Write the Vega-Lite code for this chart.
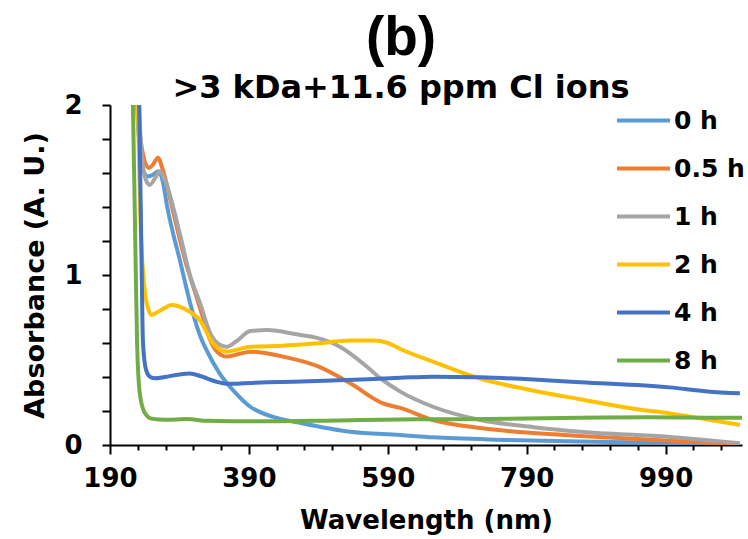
{
  "$schema": "https://vega.github.io/schema/vega-lite/v6.json",
  "autosize": "none",
  "width": 632,
  "height": 340,
  "padding": {"left": 110, "top": 105, "right": 6, "bottom": 94},
  "background": "white",
  "title": {
    "text": "(b)",
    "subtitle": ">3 kDa+11.6 ppm Cl ions",
    "anchor": "middle",
    "frame": "group",
    "dx": -25,
    "offset": -13,
    "font": "Liberation Sans",
    "fontSize": 55,
    "fontWeight": "bold",
    "color": "black",
    "subtitleFont": "DejaVu Sans",
    "subtitleFontSize": 32,
    "subtitleFontWeight": "bold",
    "subtitleColor": "black",
    "subtitlePadding": 6
  },
  "config": {
    "view": {"stroke": null},
    "axis": {
      "domainColor": "black",
      "domainWidth": 2,
      "tickColor": "black",
      "tickWidth": 2,
      "grid": false,
      "labelFont": "DejaVu Sans",
      "labelFontWeight": "bold",
      "labelFontSize": 26,
      "labelColor": "black",
      "titleFont": "DejaVu Sans",
      "titleFontWeight": "bold",
      "titleFontSize": 26,
      "titleColor": "black"
    }
  },
  "data": {
    "values": [
      {"series": "0 h", "nm": 226, "abs": 2.8},
      {"series": "0 h", "nm": 229, "abs": 2.0},
      {"series": "0 h", "nm": 233, "abs": 1.75},
      {"series": "0 h", "nm": 237.5, "abs": 1.62},
      {"series": "0 h", "nm": 245, "abs": 1.58},
      {"series": "0 h", "nm": 252, "abs": 1.59},
      {"series": "0 h", "nm": 260, "abs": 1.61},
      {"series": "0 h", "nm": 266, "abs": 1.55},
      {"series": "0 h", "nm": 272, "abs": 1.41},
      {"series": "0 h", "nm": 291, "abs": 1.08},
      {"series": "0 h", "nm": 309, "abs": 0.78},
      {"series": "0 h", "nm": 320, "abs": 0.64},
      {"series": "0 h", "nm": 330, "abs": 0.55},
      {"series": "0 h", "nm": 348, "abs": 0.42},
      {"series": "0 h", "nm": 370, "abs": 0.31},
      {"series": "0 h", "nm": 392, "abs": 0.225},
      {"series": "0 h", "nm": 425, "abs": 0.165},
      {"series": "0 h", "nm": 464, "abs": 0.13},
      {"series": "0 h", "nm": 536, "abs": 0.078},
      {"series": "0 h", "nm": 608, "abs": 0.059},
      {"series": "0 h", "nm": 655, "abs": 0.045},
      {"series": "0 h", "nm": 760, "abs": 0.03},
      {"series": "0 h", "nm": 867, "abs": 0.02},
      {"series": "0 h", "nm": 1000, "abs": 0.012},
      {"series": "0 h", "nm": 1097, "abs": 0.008},

      {"series": "0.5 h", "nm": 227, "abs": 2.8},
      {"series": "0.5 h", "nm": 230, "abs": 2.0},
      {"series": "0.5 h", "nm": 234, "abs": 1.8},
      {"series": "0.5 h", "nm": 238, "abs": 1.7},
      {"series": "0.5 h", "nm": 246, "abs": 1.63},
      {"series": "0.5 h", "nm": 252, "abs": 1.65},
      {"series": "0.5 h", "nm": 259, "abs": 1.69},
      {"series": "0.5 h", "nm": 266, "abs": 1.62},
      {"series": "0.5 h", "nm": 281, "abs": 1.37},
      {"series": "0.5 h", "nm": 300, "abs": 1.06},
      {"series": "0.5 h", "nm": 310, "abs": 0.93},
      {"series": "0.5 h", "nm": 320, "abs": 0.8},
      {"series": "0.5 h", "nm": 334, "abs": 0.62},
      {"series": "0.5 h", "nm": 345, "abs": 0.545},
      {"series": "0.5 h", "nm": 358, "abs": 0.52},
      {"series": "0.5 h", "nm": 375, "abs": 0.535},
      {"series": "0.5 h", "nm": 392, "abs": 0.549},
      {"series": "0.5 h", "nm": 439, "abs": 0.52},
      {"series": "0.5 h", "nm": 488, "abs": 0.465},
      {"series": "0.5 h", "nm": 536, "abs": 0.363},
      {"series": "0.5 h", "nm": 583, "abs": 0.245},
      {"series": "0.5 h", "nm": 608, "abs": 0.218},
      {"series": "0.5 h", "nm": 655, "abs": 0.147},
      {"series": "0.5 h", "nm": 723, "abs": 0.1},
      {"series": "0.5 h", "nm": 800, "abs": 0.07},
      {"series": "0.5 h", "nm": 867, "abs": 0.053},
      {"series": "0.5 h", "nm": 996, "abs": 0.025},
      {"series": "0.5 h", "nm": 1097, "abs": 0.003},

      {"series": "1 h", "nm": 228, "abs": 2.8},
      {"series": "1 h", "nm": 232, "abs": 2.0},
      {"series": "1 h", "nm": 236, "abs": 1.7},
      {"series": "1 h", "nm": 240, "abs": 1.58},
      {"series": "1 h", "nm": 247, "abs": 1.53},
      {"series": "1 h", "nm": 255, "abs": 1.57},
      {"series": "1 h", "nm": 262, "abs": 1.61},
      {"series": "1 h", "nm": 269, "abs": 1.56},
      {"series": "1 h", "nm": 291, "abs": 1.235},
      {"series": "1 h", "nm": 305, "abs": 1.0},
      {"series": "1 h", "nm": 320, "abs": 0.83},
      {"series": "1 h", "nm": 334, "abs": 0.66},
      {"series": "1 h", "nm": 348, "abs": 0.59},
      {"series": "1 h", "nm": 358, "abs": 0.578},
      {"series": "1 h", "nm": 372, "abs": 0.61},
      {"series": "1 h", "nm": 392, "abs": 0.67},
      {"series": "1 h", "nm": 416, "abs": 0.676},
      {"series": "1 h", "nm": 464, "abs": 0.647},
      {"series": "1 h", "nm": 488, "abs": 0.63},
      {"series": "1 h", "nm": 521, "abs": 0.578},
      {"series": "1 h", "nm": 560, "abs": 0.46},
      {"series": "1 h", "nm": 580, "abs": 0.39},
      {"series": "1 h", "nm": 608, "abs": 0.314},
      {"series": "1 h", "nm": 655, "abs": 0.225},
      {"series": "1 h", "nm": 723, "abs": 0.147},
      {"series": "1 h", "nm": 800, "abs": 0.105},
      {"series": "1 h", "nm": 867, "abs": 0.078},
      {"series": "1 h", "nm": 996, "abs": 0.047},
      {"series": "1 h", "nm": 1097, "abs": 0.01},

      {"series": "2 h", "nm": 227, "abs": 2.8},
      {"series": "2 h", "nm": 230, "abs": 2.0},
      {"series": "2 h", "nm": 234, "abs": 1.3},
      {"series": "2 h", "nm": 239, "abs": 0.95},
      {"series": "2 h", "nm": 245, "abs": 0.8},
      {"series": "2 h", "nm": 250, "abs": 0.765},
      {"series": "2 h", "nm": 262, "abs": 0.79},
      {"series": "2 h", "nm": 279, "abs": 0.824},
      {"series": "2 h", "nm": 298, "abs": 0.8},
      {"series": "2 h", "nm": 320, "abs": 0.73},
      {"series": "2 h", "nm": 338, "abs": 0.6},
      {"series": "2 h", "nm": 358, "abs": 0.55},
      {"series": "2 h", "nm": 392, "abs": 0.578},
      {"series": "2 h", "nm": 439, "abs": 0.584},
      {"series": "2 h", "nm": 488, "abs": 0.598},
      {"series": "2 h", "nm": 536, "abs": 0.614},
      {"series": "2 h", "nm": 569, "abs": 0.614},
      {"series": "2 h", "nm": 590, "abs": 0.6},
      {"series": "2 h", "nm": 608, "abs": 0.565},
      {"series": "2 h", "nm": 655, "abs": 0.49},
      {"series": "2 h", "nm": 723, "abs": 0.39},
      {"series": "2 h", "nm": 795, "abs": 0.324},
      {"series": "2 h", "nm": 867, "abs": 0.269},
      {"series": "2 h", "nm": 949, "abs": 0.21},
      {"series": "2 h", "nm": 996, "abs": 0.186},
      {"series": "2 h", "nm": 1050, "abs": 0.15},
      {"series": "2 h", "nm": 1097, "abs": 0.118},

      {"series": "4 h", "nm": 229, "abs": 2.8},
      {"series": "4 h", "nm": 232, "abs": 2.0},
      {"series": "4 h", "nm": 235, "abs": 1.2},
      {"series": "4 h", "nm": 237.5, "abs": 0.6},
      {"series": "4 h", "nm": 242, "abs": 0.44},
      {"series": "4 h", "nm": 248, "abs": 0.4},
      {"series": "4 h", "nm": 255, "abs": 0.392},
      {"series": "4 h", "nm": 269, "abs": 0.4},
      {"series": "4 h", "nm": 290, "abs": 0.415},
      {"series": "4 h", "nm": 305, "abs": 0.42},
      {"series": "4 h", "nm": 320, "abs": 0.406},
      {"series": "4 h", "nm": 341, "abs": 0.375},
      {"series": "4 h", "nm": 358, "abs": 0.36},
      {"series": "4 h", "nm": 416, "abs": 0.369},
      {"series": "4 h", "nm": 488, "abs": 0.376},
      {"series": "4 h", "nm": 608, "abs": 0.395},
      {"series": "4 h", "nm": 655, "abs": 0.402},
      {"series": "4 h", "nm": 723, "abs": 0.398},
      {"series": "4 h", "nm": 800, "abs": 0.385},
      {"series": "4 h", "nm": 867, "abs": 0.369},
      {"series": "4 h", "nm": 996, "abs": 0.339},
      {"series": "4 h", "nm": 1050, "abs": 0.315},
      {"series": "4 h", "nm": 1097, "abs": 0.304},

      {"series": "8 h", "nm": 218, "abs": 2.8},
      {"series": "8 h", "nm": 223, "abs": 2.0},
      {"series": "8 h", "nm": 226, "abs": 1.3},
      {"series": "8 h", "nm": 229, "abs": 0.6},
      {"series": "8 h", "nm": 233, "abs": 0.3},
      {"series": "8 h", "nm": 240, "abs": 0.19},
      {"series": "8 h", "nm": 250, "abs": 0.155},
      {"series": "8 h", "nm": 270, "abs": 0.148},
      {"series": "8 h", "nm": 300, "abs": 0.153},
      {"series": "8 h", "nm": 330, "abs": 0.142},
      {"series": "8 h", "nm": 400, "abs": 0.139},
      {"series": "8 h", "nm": 500, "abs": 0.143},
      {"series": "8 h", "nm": 607, "abs": 0.15},
      {"series": "8 h", "nm": 700, "abs": 0.152},
      {"series": "8 h", "nm": 867, "abs": 0.16},
      {"series": "8 h", "nm": 967, "abs": 0.163},
      {"series": "8 h", "nm": 1050, "abs": 0.16},
      {"series": "8 h", "nm": 1100, "abs": 0.16}
    ]
  },
  "mark": {"type": "line", "interpolate": "monotone", "strokeWidth": 4, "clip": true},
  "encoding": {
    "x": {
      "field": "nm",
      "type": "quantitative",
      "title": "Wavelength (nm)",
      "scale": {"domain": [190, 1100], "nice": false, "zero": false},
      "axis": {
        "values": [190, 230, 270, 310, 350, 390, 430, 470, 510, 550, 590, 630, 670, 710, 750, 790, 830, 870, 910, 950, 990, 1030, 1070],
        "labelExpr": "(datum.value - 190) % 200 == 0 ? datum.value : ''",
        "tickSize": {"condition": {"test": "(datum.value - 190) % 200 == 0", "value": 9}, "value": 5},
        "labelPadding": 11,
        "titlePadding": 16,
        "labelFlush": false,
        "labelOverlap": false
      }
    },
    "y": {
      "field": "abs",
      "type": "quantitative",
      "title": "Absorbance (A. U.)",
      "scale": {"domain": [0, 2], "nice": false},
      "axis": {
        "values": [0, 0.2, 0.4, 0.6, 0.8, 1, 1.2, 1.4, 1.6, 1.8, 2],
        "labelExpr": "(datum.value == 0 || datum.value == 1 || datum.value == 2) ? datum.value : ''",
        "tickSize": 8,
        "labelPadding": 20,
        "titlePadding": 14,
        "titleFontSize": 27,
        "labelFlush": false,
        "labelOverlap": false
      }
    },
    "color": {
      "field": "series",
      "type": "nominal",
      "sort": ["0 h", "0.5 h", "1 h", "2 h", "4 h", "8 h"],
      "scale": {
        "domain": ["0 h", "0.5 h", "1 h", "2 h", "4 h", "8 h"],
        "range": ["#5B9BD5", "#ED7D31", "#A5A5A5", "#FFC000", "#4472C4", "#70AD47"]
      },
      "legend": {
        "title": null,
        "orient": "none",
        "legendX": 505,
        "legendY": -13,
        "padding": 0,
        "symbolType": "stroke",
        "symbolSize": 2809,
        "symbolStrokeWidth": 4,
        "labelFont": "DejaVu Sans",
        "labelFontWeight": "bold",
        "labelFontSize": 25,
        "labelColor": "black",
        "labelOffset": 2,
        "rowPadding": 6
      }
    }
  }
}
